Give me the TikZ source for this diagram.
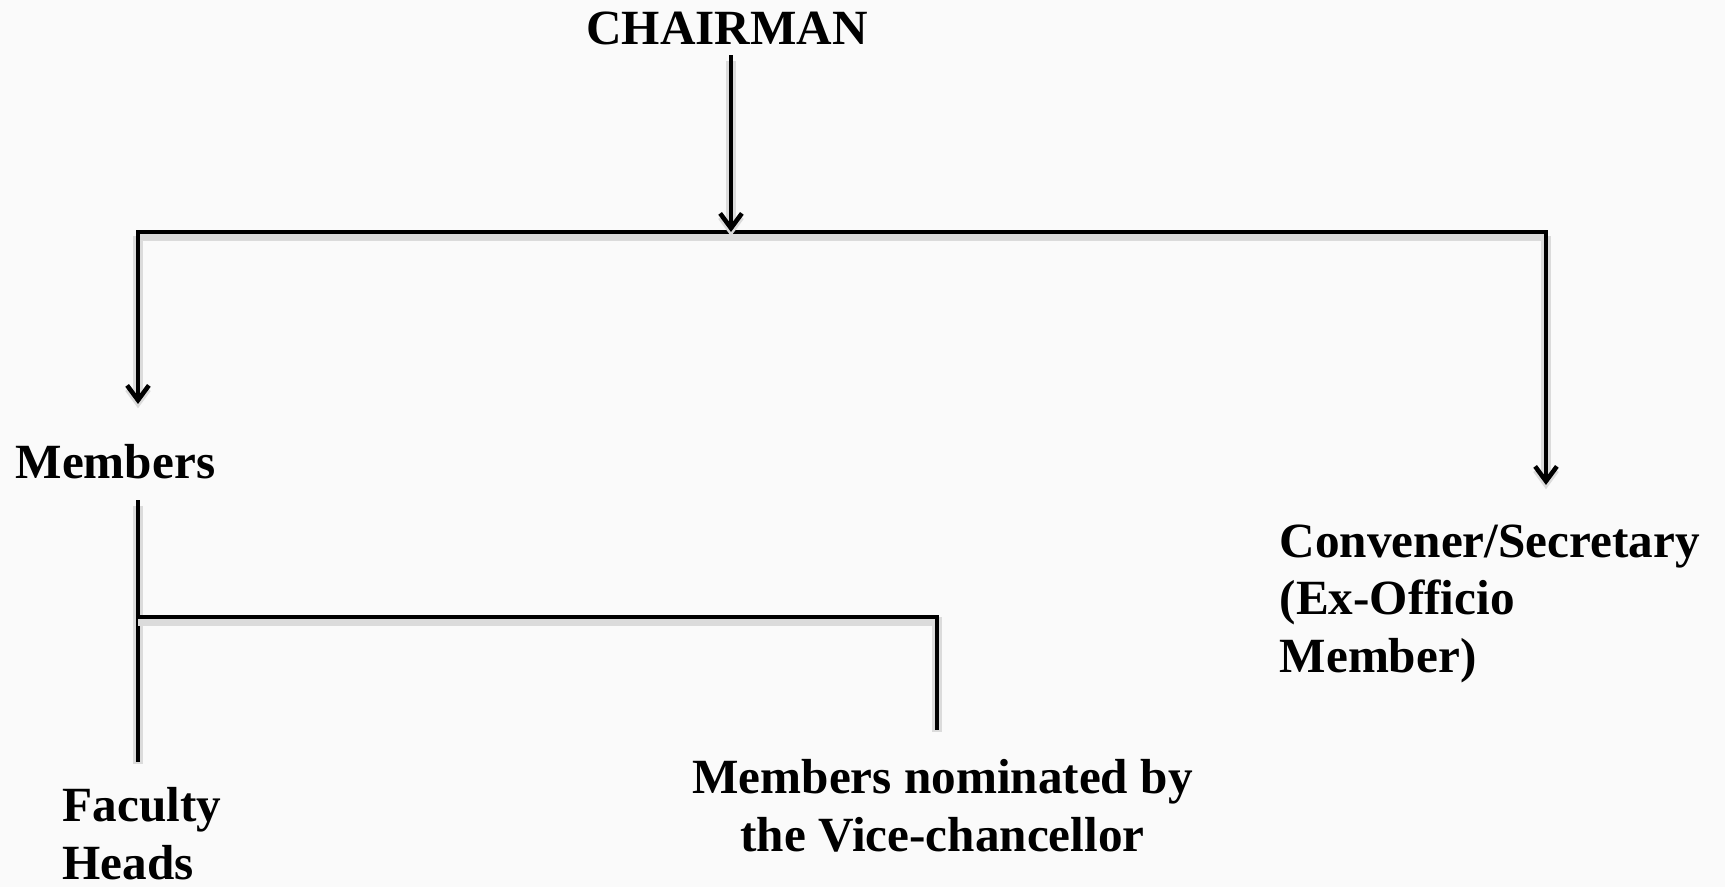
\documentclass[tikz,border=0pt]{standalone}
\usepackage{fontspec}
\setmainfont{Liberation Serif}
\usetikzlibrary{arrows.meta, calc}

\tikzset{
	lbl/.style={font=\fontsize{14}{16.5}\selectfont\bfseries, inner sep=0pt, align=left},
	link/.style={line width=1.2pt, line cap=rect,
		preaction={draw, black!14, line width=2.6pt, transform canvas={yshift=-1.2pt}}},
	arr/.style={link, -{Straight Barb[length=4.2pt, width=6.2pt, line width=1.3pt]}}
}

\begin{document}
\begin{tikzpicture}[x=1cm, y=1cm]

	% background
	\fill[black!2] (0,0) rectangle (17.25,8.87);
	\useasboundingbox (0,0) rectangle (17.25,8.87);

	% labels (base of a multi-line label = its last line)
	\node[lbl, anchor=base] (chair) at (7.27,8.42) {CHAIRMAN};
	\node[lbl, anchor=base west] (members) at (0.15,4.08) {Members};
	\node[lbl, anchor=base west] (conv) at (12.79,2.14) {Convener/Secretary\\(Ex-Officio\\Member)};
	\node[lbl, anchor=base west] (fac) at (0.62,0.07) {Faculty\\Heads};
	\node[lbl, anchor=base, align=center] (nom) at (9.425,0.35) {Members nominated by\\the Vice-chancellor};

	% connector points
	\coordinate (top) at (7.31,6.55);
	\coordinate (barL) at (1.38,6.55);
	\coordinate (barR) at (15.46,6.55);
	\coordinate (tipL) at (1.38,4.83);
	\coordinate (tipR) at (15.46,4.02);
	\coordinate (mTop) at (1.38,3.85);
	\coordinate (mJoin) at (1.38,2.70);
	\coordinate (mBot) at (1.38,1.27);
	\coordinate (nJoin) at (9.37,2.70);
	\coordinate (nBot) at (9.37,1.59);

	% chairman to the bar
	\draw[link] (barL) -- (barR);
	\draw[arr] ($(chair.base)+(0.04,-0.12)$) -- (top);
	\draw[arr] (barL) -- (tipL);
	\draw[arr] (barR) -- (tipR);

	% members branch
	\draw[link] (mTop) -- (mBot);
	\draw[link] (mJoin) -- (nJoin) -- (nBot);

\end{tikzpicture}
\end{document}
